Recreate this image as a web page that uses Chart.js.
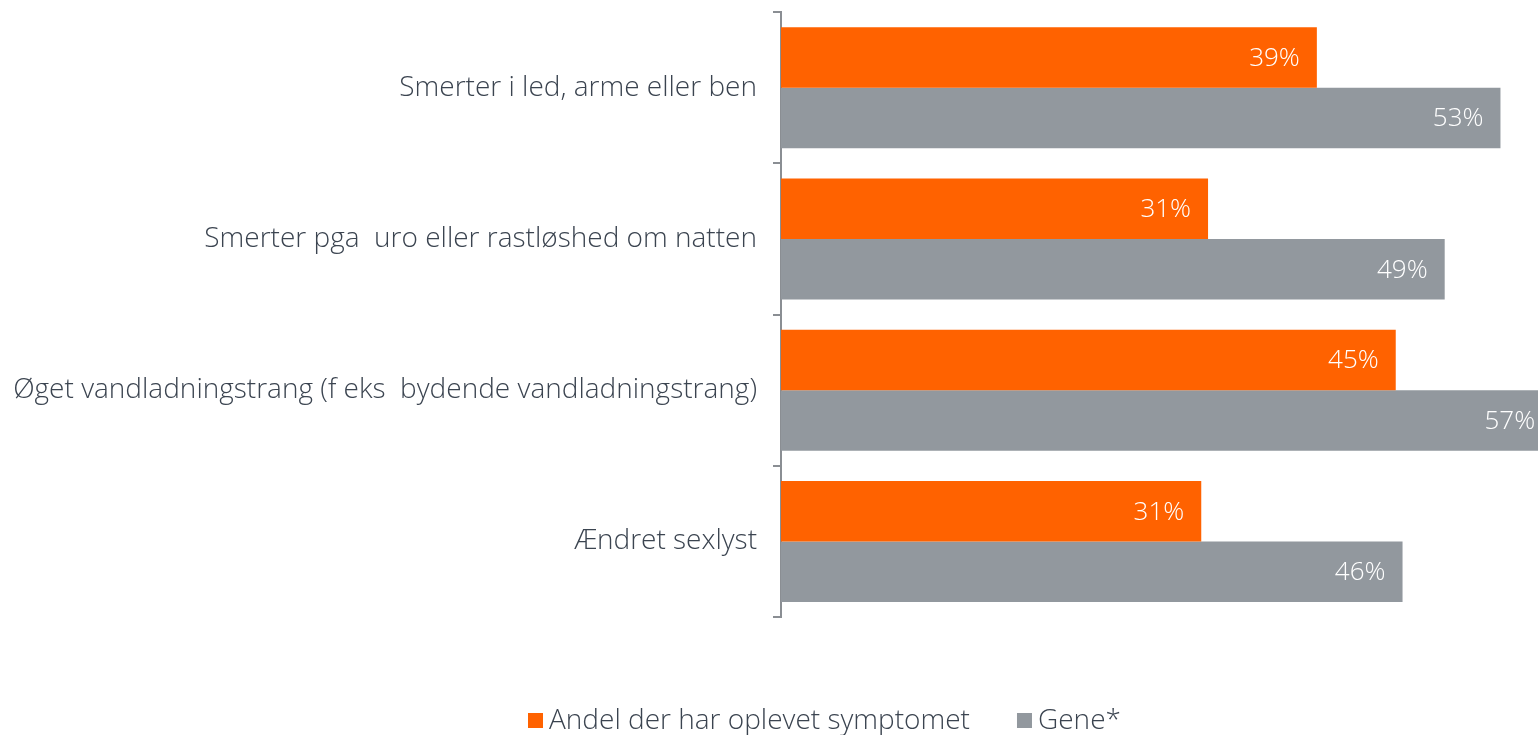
<!DOCTYPE html>
<html>
<head>
<meta charset="utf-8">
<script src="https://cdn.jsdelivr.net/npm/chart.js@4.4.1/dist/chart.umd.min.js"></script>
<style>
  html, body { margin: 0; padding: 0; background: #ffffff; }
  #wrap { width: 1538px; height: 735px; position: relative; }
</style>
</head>
<body>
<div id="wrap"><canvas id="c" width="1538" height="735"></canvas></div>
<script>
const categories = [
  "Smerter i led, arme eller ben",
  "Smerter pga  uro eller rastløshed om natten",
  "Øget vandladningstrang (f eks  bydende vandladningstrang)",
  "Ændret sexlyst"
];
const seriesNames = ["Andel der har oplevet symptomet", "Gene*"];
const experienced = [39.4, 31.4, 45.2, 30.9];
const bother = [52.9, 48.8, 56.7, 45.7];
const xMax = 55.66;

const ORANGE = "#ff6200";
const GREY = "#92989e";
const TEXT = "#3b4450";
const FONT = "'Open Sans'";
const LABEL_SIZE = 28;

const valueLabels = {
  id: "valueLabels",
  afterDatasetsDraw(chart) {
    const ctx = chart.ctx;
    ctx.save();
    ctx.font = "300 26px " + FONT;
    ctx.fillStyle = "#ffffff";
    ctx.textAlign = "right";
    ctx.textBaseline = "middle";
    chart.data.datasets.forEach((ds, di) => {
      const meta = chart.getDatasetMeta(di);
      meta.data.forEach((bar, i) => {
        const v = ds.data[i];
        const xEnd = chart.scales.x.getPixelForValue(v);
        ctx.fillText(Math.round(v) + "%", xEnd - 17, bar.y + 1);
      });
    });
    ctx.restore();
  }
};

const customLegend = {
  id: "customLegend",
  afterDraw(chart) {
    const ctx = chart.ctx;
    ctx.save();
    ctx.font = "300 " + LABEL_SIZE + "px " + FONT;
    ctx.textBaseline = "middle";
    ctx.textAlign = "left";
    let x = 528;
    const y = 721;
    chart.data.datasets.forEach((ds, i) => {
      ctx.fillStyle = ds.backgroundColor;
      ctx.fillRect(x, y - 8, 15, 15);
      ctx.fillStyle = TEXT;
      const tx = x + 21;
      ctx.fillText(ds.label, tx, y);
      x = tx + ctx.measureText(ds.label).width + 47;
    });
    ctx.restore();
  }
};

new Chart(document.getElementById("c"), {
  type: "bar",
  data: {
    labels: categories,
    datasets: [
      { label: seriesNames[0], data: experienced, backgroundColor: ORANGE, borderWidth: 0,
        categoryPercentage: 0.8, barPercentage: 1.0 },
      { label: seriesNames[1], data: bother, backgroundColor: GREY, borderWidth: 0,
        categoryPercentage: 0.8, barPercentage: 1.0 }
    ]
  },
  options: {
    indexAxis: "y",
    responsive: false,
    animation: false,
    maintainAspectRatio: false,
    layout: { padding: { top: 12, bottom: 118, left: 0, right: 0 } },
    plugins: {
      legend: { display: false },
      tooltip: { enabled: false }
    },
    scales: {
      x: {
        display: false,
        min: 0,
        max: xMax
      },
      y: {
        afterFit(scale) {
          scale.width = 781;
          scale.paddingTop = 0;
          scale.paddingBottom = 0;
        },
        grid: {
          display: true,
          drawOnChartArea: false,
          drawTicks: true,
          tickLength: 8,
          color: "#8a8e93",
          lineWidth: 2,
          offset: true
        },
        border: { display: true, color: "#8a8e93", width: 2 },
        ticks: {
          padding: 16,
          color: TEXT,
          font: { family: FONT, size: LABEL_SIZE, weight: "300" }
        }
      }
    }
  },
  plugins: [valueLabels, customLegend]
});
</script>
</body>
</html>
